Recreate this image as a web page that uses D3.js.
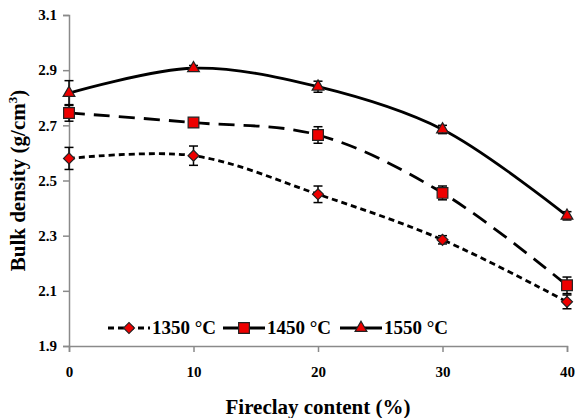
<!DOCTYPE html>
<html>
<head>
<meta charset="utf-8">
<script src="https://cdn.jsdelivr.net/npm/d3@7"></script>
<style>
  body { margin: 0; background: #fff; }
  text { font-family: "Liberation Serif", "Times New Roman", serif; font-weight: bold; }
</style>
</head>
<body>
<div id="chart"></div>
<script>
const fireclay = [0, 10, 20, 30, 40];
const xTicks = [0, 10, 20, 30, 40];
const yTicks = [1.9, 2.1, 2.3, 2.5, 2.7, 2.9, 3.1];

const d1350 = [2.58, 2.59, 2.45, 2.285, 2.06];
const e1350 = [0.04, 0.035, 0.03, 0.015, 0.025];
const d1450 = [2.745, 2.71, 2.665, 2.455, 2.12];
const e1450 = [0.03, 0.01, 0.03, 0.025, 0.03];
const d1550 = [2.817, 2.907, 2.84, 2.685, 2.372];
const e1550 = [0.045, 0.01, 0.02, 0.015, 0.015];

const seriesNames = ['1350 °C', '1450 °C', '1550 °C'];

const width = 575;
const height = 418;
const margin = { left: 69, right: 8, top: 15, bottom: 72 };

const x = d3.scaleLinear().domain([0, 40]).range([margin.left, width - margin.right]);
const y = d3.scaleLinear().domain([1.9, 3.1]).range([height - margin.bottom, margin.top]);

const series = [
    { name: seriesNames[0], vals: d1350, errs: e1350, dash: '6 4', symbol: d3.symbolSquare, size: 60, rot: 45 },
    { name: seriesNames[1], vals: d1450, errs: e1450, dash: '16 9', symbol: d3.symbolSquare, size: 115, rot: 0 },
    { name: seriesNames[2], vals: d1550, errs: e1550, dash: null, symbol: d3.symbolTriangle, size: 60, rot: 0 }
];

const svg = d3.select('#chart').append('svg')
    .attr('width', width)
    .attr('height', height);

const axisColor = '#8a8a8a';
const serif = '"Liberation Serif", "Times New Roman", serif';

// y axis
const yAxis = svg.append('g')
    .attr('transform', `translate(${margin.left},0)`)
    .call(d3.axisLeft(y).tickValues(yTicks).tickFormat(d3.format('.1f')).tickSizeOuter(0).tickSize(6).tickPadding(6));
yAxis.attr('font-family', serif);
yAxis.select('.domain').attr('stroke', axisColor).attr('stroke-width', 1.5);
yAxis.selectAll('.tick line').attr('stroke', axisColor).attr('stroke-width', 1.5);
yAxis.selectAll('.tick text').attr('fill', '#000').attr('font-size', 15);

// x axis
const xAxis = svg.append('g')
    .attr('transform', `translate(0,${height - margin.bottom})`)
    .call(d3.axisBottom(x).tickValues(xTicks).tickSizeOuter(0).tickSize(6).tickPadding(14));
xAxis.attr('font-family', serif);
xAxis.select('.domain').attr('stroke', axisColor).attr('stroke-width', 1.5);
xAxis.selectAll('.tick line').attr('stroke', axisColor).attr('stroke-width', 1.5);
xAxis.selectAll('.tick text').attr('fill', '#000').attr('font-size', 15);

// titles
svg.append('text')
    .attr('x', 318)
    .attr('y', 414)
    .attr('text-anchor', 'middle')
    .attr('font-size', 21)
    .text('Fireclay content (%)');

const yt = svg.append('text')
    .attr('transform', `translate(25,${(margin.top + height - margin.bottom) / 2}) rotate(-90)`)
    .attr('text-anchor', 'middle')
    .attr('font-size', 21);
yt.append('tspan').text('Bulk density (g/cm');
yt.append('tspan').attr('font-size', 13).attr('dy', -8).text('3');
yt.append('tspan').attr('dy', 8).text(')');

const line = d3.line()
    .x((d, i) => x(fireclay[i]))
    .y(d => y(d))
    .curve(d3.curveCatmullRom.alpha(0.5));

series.forEach(s => {
    const g = svg.append('g');

    g.append('path')
        .datum(s.vals)
        .attr('fill', 'none')
        .attr('stroke', '#000')
        .attr('stroke-width', 2.8)
        .attr('stroke-dasharray', s.dash)
        .attr('d', line);

    // error bars
    const eb = g.selectAll('.err')
        .data(s.vals.map((v, i) => ({ x: fireclay[i], v: v, e: s.errs[i] })))
        .join('g');
    eb.append('line')
        .attr('stroke', '#000').attr('stroke-width', 1.5)
        .attr('x1', d => x(d.x)).attr('x2', d => x(d.x))
        .attr('y1', d => y(d.v + d.e)).attr('y2', d => y(d.v - d.e));
    [1, -1].forEach(sign => {
        eb.append('line')
            .attr('stroke', '#000').attr('stroke-width', 1.5)
            .attr('x1', d => x(d.x) - 4.5).attr('x2', d => x(d.x) + 4.5)
            .attr('y1', d => y(d.v + sign * d.e)).attr('y2', d => y(d.v + sign * d.e));
    });

    g.selectAll('.mark')
        .data(s.vals)
        .join('path')
        .attr('transform', (d, i) => `translate(${x(fireclay[i])},${y(d)}) rotate(${s.rot})`)
        .attr('d', d3.symbol().type(s.symbol).size(s.size))
        .attr('fill', '#ee0000')
        .attr('stroke', '#222')
        .attr('stroke-width', 1.2);
});

// legend
const legendX = [108, 223, 340];
const legendY = 328;
series.forEach((s, i) => {
    const lg = svg.append('g').attr('transform', `translate(${legendX[i]},${legendY})`);
    lg.append('line')
        .attr('x1', 0).attr('x2', 42).attr('y1', 0).attr('y2', 0)
        .attr('stroke', '#000').attr('stroke-width', 2.8)
        .attr('stroke-dasharray', i === 0 ? '6 4' : null);
    lg.append('path')
        .attr('transform', `translate(21,0) rotate(${s.rot})`)
        .attr('d', d3.symbol().type(s.symbol).size(s.size))
        .attr('fill', '#ee0000')
        .attr('stroke', '#222')
        .attr('stroke-width', 1.2);
    lg.append('text')
        .attr('x', 44)
        .attr('y', 6)
        .attr('font-size', 19)
        .text(s.name);
});
</script>
</body>
</html>
